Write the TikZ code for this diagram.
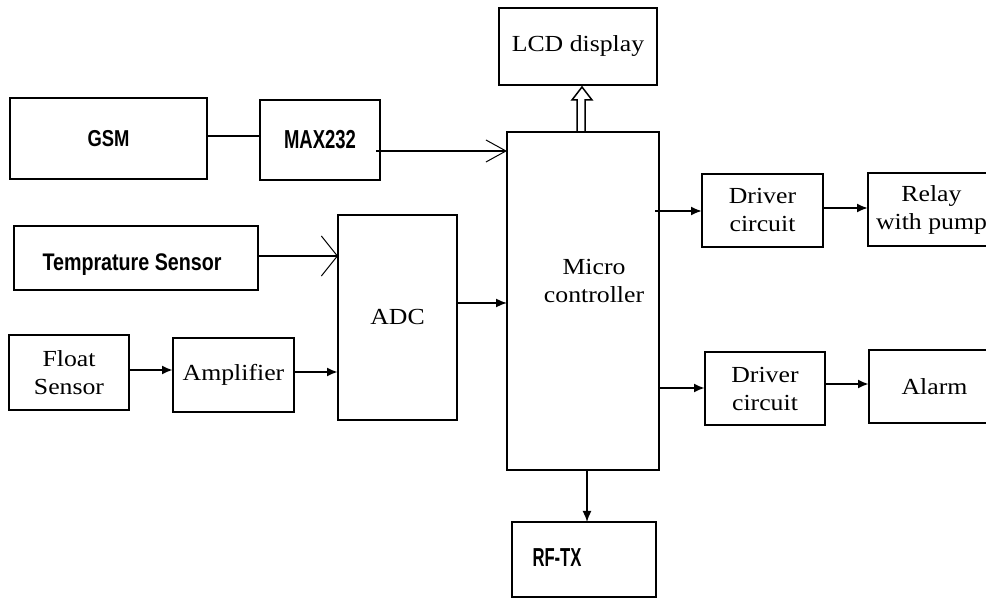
\documentclass[tikz,border=0pt]{standalone}
\usepackage{fontspec}
\usepackage{graphicx}
\setmainfont{Liberation Serif}[FakeStretch=1.12]
\newfontfamily\condfont{Liberation Sans}
\usetikzlibrary{arrows.meta}
\tikzset{
  box/.style={draw, line width=2pt, inner sep=0pt, outer sep=0pt, align=center,
    font=\fontsize{23}{28}\selectfont},
  conn/.style={line width=1.6pt},
  solidtip/.style={-{Latex[length=11pt,width=9pt]}},
}
\newcommand{\cnd}[3]{{\condfont\bfseries\fontsize{#1}{#1}\selectfont\scalebox{#2}[1]{#3}}}
\begin{document}
\begin{tikzpicture}[x=1pt,y=-1pt]
\useasboundingbox (0,0) rectangle (986,601);
\clip (0,0) rectangle (986,601);
\fill[white] (0,0) rectangle (986,601);
% boxes
\node[box, minimum width=197, minimum height=81] (gsm) at (108.5,138.5) {\cnd{23}{0.80}{GSM}};
\node[box, minimum width=120, minimum height=80] (max) at (320,140) {\cnd{26}{0.71}{MAX232}};
\node[box, minimum width=158, minimum height=77] (lcd) at (578,46.5) {LCD display};
\node[box, minimum width=152, minimum height=338] (micro) at (583,301) {};
\node[font=\fontsize{23}{28}\selectfont, align=center] (microT) at (594,281) {Micro\\controller};
\node[box, minimum width=244, minimum height=64] (temp) at (136,258) {};
\node (tempT) at (132,265) {\cnd{24}{0.82}{Temprature Sensor}};
\node[box, minimum width=119, minimum height=205] (adc) at (397.5,317.5) {ADC};
\node[box, minimum width=120, minimum height=75] (float) at (69,372.5) {Float\\Sensor};
\node[box, minimum width=121, minimum height=74] (amp) at (233.5,375) {Amplifier};
\node[box, minimum width=121, minimum height=73] (drv1) at (762.5,210.5) {Driver\\circuit};
\node[box, minimum width=127, minimum height=73] (relay) at (931.5,209.5) {Relay\\with pump};
\node[box, minimum width=120, minimum height=73] (drv2) at (765,388.5) {Driver\\circuit};
\node[box, minimum width=131, minimum height=73] (alarm) at (934.5,386.5) {Alarm};
\node[box, minimum width=144, minimum height=75] (rf) at (584,559.5) {};
\node (rfT) at (557,558) {\cnd{26}{0.64}{RF-TX}};
% connectors
\draw[conn] ([yshift=2.5pt]gsm.east) -- ([yshift=4pt]max.west);
\draw[conn, -{Straight Barb[length=20pt,width=22pt,line width=1pt]}] ([xshift=-4pt,yshift=-11pt]max.east) -- ([yshift=150pt]micro.west);
\draw[conn, -{Straight Barb[length=16pt,width=40pt,line width=1pt]}] ([yshift=2pt]temp.east) -- ([yshift=61.5pt]adc.west);
\draw[conn, solidtip] ([yshift=14.5pt]adc.east) -- ([yshift=-2pt]micro.west);
\draw[line width=2.5pt, solidtip] ([yshift=2.5pt]float.east) -- ([yshift=5pt]amp.west);
\draw[line width=2.5pt, solidtip] ([yshift=3pt]amp.east) -- ([yshift=-54.5pt]adc.west);
\draw[line width=2pt, solidtip] ([xshift=-4pt,yshift=90pt]micro.east) -- ([yshift=-0.5pt]drv1.west);
\draw[line width=2pt, solidtip] ([yshift=2.5pt]drv1.east) -- ([yshift=1.5pt]relay.west);
\draw[line width=2.5pt, solidtip] ([yshift=-87pt]micro.east) -- ([yshift=0.5pt]drv2.west);
\draw[line width=2.5pt, solidtip] ([yshift=4.5pt]drv2.east) -- ([yshift=2.5pt]alarm.west);
\draw[conn, solidtip] ([xshift=4pt]micro.south) -- ([xshift=3pt]rf.north);
% hollow arrow to LCD
\draw[line width=1.5pt, line join=miter] ([xshift=-6pt]micro.north) -- ++(0,-32) -- ++(-5,0)
  -- ([xshift=4pt,yshift=-2pt]lcd.south) -- ++(10,13) -- ++(-7,0) -- ++(0,32);
\end{tikzpicture}
\end{document}
